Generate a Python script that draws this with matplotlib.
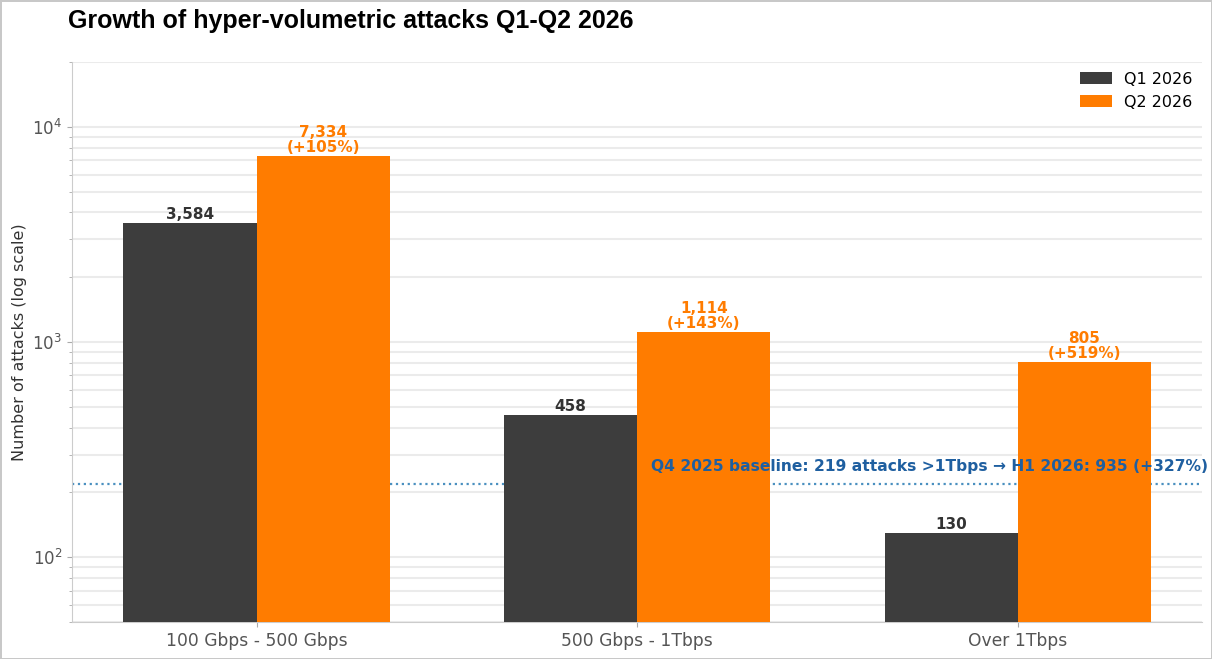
import numpy as np
import matplotlib
matplotlib.use("Agg")
import matplotlib.pyplot as plt

categories = ["100 Gbps - 500 Gbps", "500 Gbps - 1Tbps", "Over 1Tbps"]
q1_values = [3584, 458, 130]
q2_values = [7334, 1114, 805]
growth = ["+105%", "+143%", "+519%"]
baseline = 219
baseline_text = "Q4 2025 baseline: 219 attacks >1Tbps \u2192 H1 2026: 935 (+327%)"

dark = "#3d3d3d"
orange = "#ff7c00"
blue = "#1f5fa0"

fig = plt.figure(figsize=(12.12, 6.59), dpi=100)
fig.patch.set_edgecolor("#c8c8c8")
fig.patch.set_linewidth(2)
ax = fig.add_axes([0.0594, 0.056, 0.9326, 0.85])

x = np.arange(len(categories))
w = 0.35
ax.bar(x - w / 2, q1_values, w, color=dark, label="Q1 2026", zorder=3)
ax.bar(x + w / 2, q2_values, w, color=orange, label="Q2 2026", zorder=3)

ax.set_yscale("log")
ax.set_ylim(50, 20000)

for i in range(len(categories)):
    ax.text(x[i] - w / 2, q1_values[i] * 1.01, f"{q1_values[i]:,}", ha="center", va="bottom",
            fontsize=11, fontweight="bold", color="#333333", zorder=4)
    ax.text(x[i] + w / 2, q2_values[i] * 1.01, f"{q2_values[i]:,}\n({growth[i]})", ha="center",
            va="bottom", fontsize=11, fontweight="bold", color=orange, linespacing=1.0, zorder=4)

ax.axhline(baseline, color="#4a90c0", linestyle=":", linewidth=1.6, zorder=2)
ax.text(2.5, baseline * 1.11, baseline_text, ha="right", va="bottom", fontsize=11.2,
        fontweight="bold", color=blue, zorder=4)

ax.set_xticks(x)
ax.set_xticklabels(categories, fontsize=12.3, color="#555555")
ax.set_ylabel("Number of attacks (log scale)", fontsize=11.5, color="#333333")
ax.tick_params(axis="y", labelsize=12, labelcolor="#555555", color="#aaaaaa")
ax.tick_params(axis="y", which="minor", color="#aaaaaa")
ax.tick_params(axis="x", color="#aaaaaa")

ax.grid(True, axis="y", which="both", color="#ebebeb", linewidth=1.5, zorder=0)
ax.set_axisbelow(True)
for s in ["top", "right"]:
    ax.spines[s].set_visible(False)
for s in ["left", "bottom"]:
    ax.spines[s].set_color("#cccccc")

ax.legend(loc="upper right", frameon=False, fontsize=11.5, borderaxespad=0.2)

fig.text(0.056, 0.968, "Growth of hyper-volumetric attacks Q1-Q2 2026", fontsize=18,
         fontweight="bold", family="Liberation Sans", va="center", ha="left")

fig.savefig("out.png", dpi=100)
